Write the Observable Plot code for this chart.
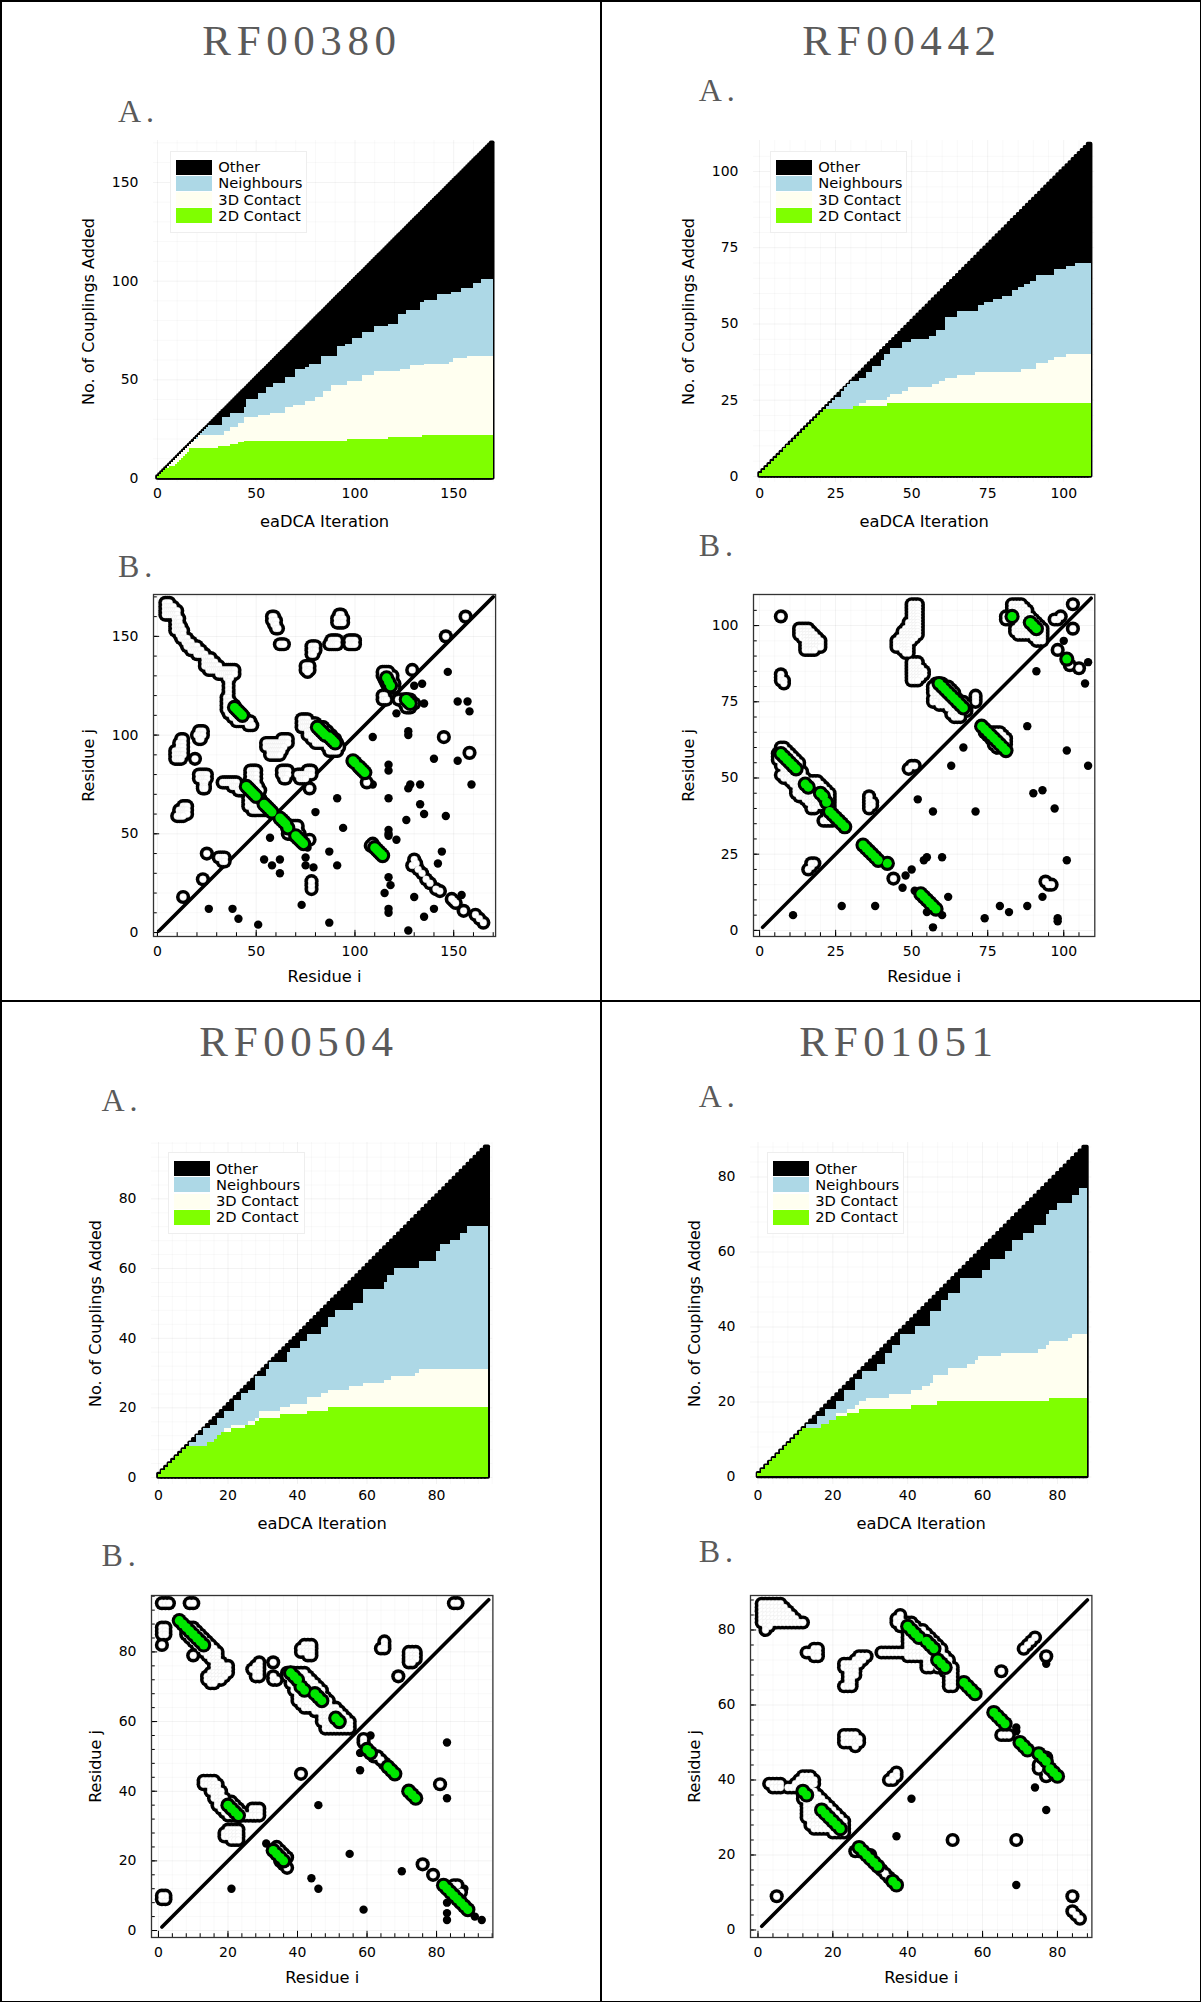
<!DOCTYPE html>
<html><head><meta charset="utf-8">
<script src="https://cdn.jsdelivr.net/npm/d3@7"></script>
<script src="https://cdn.jsdelivr.net/npm/@observablehq/plot@0.6"></script>
<style>
html,body{margin:0;padding:0;background:#fff}
#page{position:relative;width:1201px;height:2002px;overflow:hidden;background:#fff}
#page svg{position:absolute;background:transparent;overflow:visible}
.line{position:absolute;background:#000}
.title,.tag{position:absolute;font-family:"Liberation Serif",serif;color:#5a5a5a;white-space:nowrap;line-height:1}
.title{font-size:43px;letter-spacing:5.6px}
.tag{font-size:32px;letter-spacing:5px}
.legend{position:absolute;width:135px;height:80px;background:#fff;border:1px solid #eee;font:14.7px "DejaVu Sans",sans-serif;color:#000}
.legend i{position:absolute;left:5px;width:36px;height:15px}
.legend span{position:absolute;left:47px;line-height:16px}
</style></head><body><div id="page"></div>
<script>
// Panel RF00380
const rf00380Size = 170;
const rf00380Pair = [[0,5],[6,5],[7,6],[10,7],[11,8],[12,9],[13,10],[14,11],[15,12],[16,13],[17,15],[32,16],[38,17],[42,18],[45,19],[97,20],[118,21],[135,22]];
const rf00380Contact3D = [[0,17],[18,18],[20,20],[22,22],[35,24],[38,26],[42,28],[45,31],[52,32],[58,33],[66,36],[70,37],[76,39],[81,41],[85,44],[89,47],[97,49],[105,52],[111,54],[124,55],[129,57],[136,58],[149,59],[151,61],[158,62]];
const rf00380Neighbour = [[0,24],[25,27],[34,31],[38,33],[45,36],[46,40],[52,43],[56,46],[60,48],[66,51],[71,55],[76,56],[78,58],[84,62],[92,67],[96,68],[100,71],[105,74],[111,77],[118,78],[123,83],[127,85],[134,89],[136,90],[143,93],[150,94],[155,96],[161,99],[165,101]];
const rf00380Other = [[26,12],[38,12],[41,7],[51,4],[73,14],[87,5],[127,1],[135,8],[140,12],[117,12],[117,10],[154,19],[130,18],[115,20],[118,24],[117,28],[142,35],[144,41],[54,37],[62,37],[58,34],[62,30],[75,38],[75,34],[79,33],[91,34],[87,41],[57,48],[76,43],[94,53],[80,61],[91,68],[109,99],[121,47],[117,52],[117,50],[117,49],[126,57],[135,60],[146,59],[133,65],[117,68],[127,73],[128,75],[133,75],[159,75],[109,75],[117,85],[117,82],[140,88],[152,87],[127,102],[127,100],[121,111],[158,112],[157,117],[152,117],[135,116],[127,113],[130,125],[134,126],[147,132]];
// rows of the contact map: [j, first i, last i]
const rf00380ContactRows = [[167,4,6],[165,4,8],[163,4,10],[161,4,10],[159,9,11],[157,9,11],[155,9,12],[153,9,13],[151,11,13],[149,12,15],[147,14,17],[145,15,20],[143,17,22],[141,20,24],[139,24,27],[137,24,29],[135,24,31],[133,26,39],[131,31,39],[129,35,37],[127,36,36],[125,36,36],[123,36,36],[121,36,36],[119,35,36],[117,35,37],[115,35,39],[113,35,40],[111,36,42],[109,38,44],[107,40,47],[105,46,48],
[160,58,59],[158,58,60],[156,59,60],[154,60,61],[146,62,64],[161,92,93],[159,91,94],[157,91,94],[148,88,91],[146,87,91],[148,97,100],[146,97,100],[145,78,80],[143,78,80],[141,78,79],[135,75,77],[133,75,77],[132,76,76],[132,114,117],[130,114,119],[128,115,119],[126,116,120],[124,117,120],[120,114,115],[118,114,116],[118,122,128],[116,125,130],[114,126,128],
[102,21,23],[100,20,23],[98,21,22],[98,12,13],[96,11,13],[94,11,13],[92,9,13],[90,9,13],[88,9,12],[80,21,25],[78,21,25],[76,23,24],[74,23,24],[73,23,24],[76,33,40],[74,38,43],[72,41,44],[82,47,50],[80,47,50],[78,47,50],[76,46,50],[74,46,51],[72,47,52],[68,46,52],[66,46,53],[64,46,54],[62,48,56],[54,68,71],[52,66,71],[50,66,72],[108,73,76],[106,73,80],[104,73,84],[102,76,86],[100,76,88],[98,78,90],[96,80,91],[94,86,92],[92,87,91],[98,63,66],[96,55,66],[94,55,64],[92,57,63],[90,57,62],[82,63,66],[80,63,66],[78,64,65],[82,76,78],[80,71,78],[78,72,75],[64,13,15],[62,11,15],[60,11,15],[59,10,13],[38,31,34],[36,33,34]];
const rf00380ContactPoints = [[19,88],[25,40],[23,27],[13,18],[156,160],[146,150],[129,133],[145,99],[158,91],[106,76],[77,73],[77,47],[78,22],[78,24],[78,26],[130,37],[129,34],[131,35],[132,32],[134,30],[136,27],[138,25],[141,22],[143,21],[150,16],[149,17],[151,15],[155,11],[161,9],[163,7],[165,5],[108,44],[109,45]];
const rf00380Paired = [[39,114],[40,113],[41,112],[42,111],[43,110],[45,74],[46,73],[47,72],[48,71],[49,70],[50,69],[54,65],[55,64],[56,63],[57,62],[58,61],[62,58],[63,57],[64,56],[65,55],[66,53],[70,49],[71,48],[72,47],[73,46],[74,45],[81,104],[82,103],[83,102],[84,101],[85,100],[87,99],[88,98],[89,97],[90,96],[99,87],[100,86],[102,84],[103,83],[104,82],[105,81],[110,43],[111,42],[112,41],[113,40],[114,39],[116,129],[117,127],[118,125],[126,118],[127,117],[128,116]];
const rf00380MajorTicks = [0,50,100,150];
const rf00380MinorTicks = [0,10,20,30,40,50,60,70,80,90,100,110,120,130,140,150,160,170];

// Panel RF00442
const rf00442Size = 109;
const rf00442Pair = [[0,21],[22,22],[32,23],[43,24]];
const rf00442Contact3D = [[0,22],[32,23],[34,24],[36,25],[43,26],[44,27],[48,28],[50,29],[58,30],[60,31],[62,32],[66,33],[72,34],[87,35],[92,37],[96,38],[98,39],[102,40]];
const rf00442Neighbour = [[0,22],[23,24],[25,26],[28,29],[30,31],[34,32],[36,34],[38,36],[41,38],[42,40],[44,42],[48,44],[51,45],[57,46],[59,48],[62,52],[66,54],[73,56],[75,57],[78,58],[81,59],[84,61],[86,62],[88,63],[90,64],[92,66],[98,68],[102,69],[105,70]];
const rf00442Other = [[11,5],[27,8],[38,8],[47,14],[48,18],[50,20],[54,23],[55,24],[60,24],[62,11],[60,5],[55,6],[57,1],[51,13],[74,4],[79,8],[82,6],[88,8],[93,11],[98,4],[98,3],[101,23],[57,39],[71,39],[52,43],[63,54],[67,60],[90,45],[93,46],[97,40],[101,59],[108,54],[88,67],[91,85],[100,95],[107,81],[108,88],[80,64],[78,59]];
const rf00442ContactRows = [[99,13,16],[98,13,17],[97,13,18],[96,14,19],[95,15,20],[94,15,20],[93,15,20],[92,15,18],[107,50,52],[106,50,52],[105,50,52],[104,50,52],[103,50,52],[102,50,52],[101,49,52],[100,49,52],[99,48,52],[98,47,52],[97,47,52],[96,46,51],[95,45,50],[94,45,49],[93,45,49],[92,47,49],[91,48,49],[88,50,52],[87,50,52],[86,50,53],[85,50,54],[84,50,54],[83,50,53],[82,50,52],
[107,83,86],[106,83,87],[105,83,88],[104,84,88],[103,81,89],[102,81,90],[101,86,91],[100,85,92],[99,84,93],[98,84,93],[97,85,93],[96,90,93],[95,91,93],[81,58,60],[80,57,62],[79,57,63],[78,57,64],[77,58,64],[76,57,65],[75,57,58],[75,60,67],[74,59,68],[73,62,68],[72,64,68],[71,63,66],[70,64,66],[77,71,71],[76,71,71],[75,71,71],
[60,7,8],[59,7,9],[58,6,10],[57,6,11],[56,6,12],[55,7,13],[54,7,13],[53,8,13],[52,8,14],[51,7,14],[50,8,15],[49,10,19],[48,11,20],[47,12,21],[46,12,22],[45,12,23],[44,13,23],[43,15,23],[42,16,23],[41,17,23],[40,17,18],[40,22,23],[39,22,23],[38,23,23],[37,22,24],[36,21,24],[44,36,36],[43,36,36],[42,36,37],[41,36,37],[40,36,36],[65,74,79],[64,75,80],[63,76,81],[62,77,81],[61,77,81],[60,78,80]];
const rf00442ContactPoints = [[7,103],[7,84],[7,83],[7,82],[8,82],[8,81],[44,17],[103,107],[103,99],[98,92],[105,86],[102,87],[98,102],[99,103],[97,102],[49,53],[50,54],[51,54],[16,20],[17,21],[18,22],[17,22],[94,16],[96,15],[95,15]];
const rf00442Paired = [[59,81],[60,80],[61,79],[62,78],[63,77],[64,76],[65,75],[66,74],[67,73],[7,58],[8,57],[9,56],[10,55],[11,54],[12,53],[15,48],[16,47],[20,45],[21,44],[22,42],[23,39],[24,38],[25,37],[26,36],[27,35],[28,34],[34,28],[35,27],[36,26],[37,25],[38,24],[39,23],[42,22],[53,12],[54,11],[55,10],[56,9],[57,8],[58,7],[73,67],[74,66],[75,65],[76,64],[77,63],[78,62],[79,61],[80,60],[81,59],[83,103],[89,101],[90,100],[91,99],[101,89]];
const rf00442MajorTicks = [0,25,50,75,100];
const rf00442MinorTicks = [0,5,10,15,20,25,30,35,40,45,50,55,60,65,70,75,80,85,90,95,100,105];

// Panel RF00504
const rf00504Size = 95;
const rf00504Pair = [[0,9],[15,10],[17,11],[18,12],[19,13],[22,14],[26,15],[29,16],[30,17],[36,18],[44,19],[50,20]];
const rf00504Contact3D = [[0,9],[15,10],[17,11],[18,12],[19,13],[20,14],[22,15],[27,16],[29,17],[30,19],[36,20],[39,21],[44,23],[48,24],[50,25],[56,26],[60,27],[66,28],[68,29],[75,30],[76,31]];
const rf00504Neighbour = [[0,10],[12,12],[14,14],[16,15],[18,17],[20,19],[23,22],[25,24],[27,25],[29,29],[32,31],[33,33],[38,36],[39,37],[42,39],[44,41],[48,43],[50,46],[52,48],[57,50],[60,54],[66,56],[67,58],[69,60],[76,62],[81,65],[82,67],[85,68],[88,70],[90,72]];
const rf00504Other = [[21,12],[31,25],[44,15],[46,12],[55,22],[46,36],[59,6],[70,17],[58,46],[58,51],[61,56],[83,54],[83,38],[83,8],[83,5],[83,3],[88,12],[91,4],[93,3]];
const rf00504ContactRows = [[94,1,3],[94,9,10],[94,85,86],[87,1,2],[86,1,2],[85,1,2],[87,9,10],[86,8,11],[85,8,12],[84,9,13],[83,10,14],[82,11,15],[81,12,16],[80,13,17],[79,14,17],[78,15,17],[77,16,18],[76,16,20],[75,16,20],[74,15,20],[73,14,19],[72,14,18],[71,15,16],[77,29,29],[76,28,29],[75,27,29],[74,28,29],[73,28,29],
[74,37,42],[73,37,43],[72,38,44],[71,38,45],[70,39,46],[69,39,47],[68,40,47],[67,40,48],[66,40,49],[65,41,49],[64,42,51],[63,45,52],[62,47,53],[61,47,54],[60,47,55],[59,48,55],[58,48,55],
[43,13,16],[42,13,17],[41,15,17],[40,15,18],[39,16,18],[38,16,19],[37,17,21],[36,17,22],[35,18,23],[35,27,29],[34,19,24],[34,27,29],[33,20,29],[29,20,23],[28,19,23],[27,19,23],[26,21,23],[82,42,44],[81,41,44],[80,41,44],[79,43,44],[83,65,65],[82,65,65],[81,64,65],[80,72,74],[79,72,74],[78,72,74],[77,72,73]];
const rf00504ContactPoints = [[1,82],[10,79],[33,77],[33,72],[34,72],[33,73],[41,45],[81,42],[59,55],[59,54],[76,19],[79,16],[37,18],[36,19],[35,20],[62,50],[63,50],[64,49],[65,48],[1,9],[2,9],[2,10],[1,10],[85,13],[86,13],[87,11],[34,24],[35,23],[36,22],[37,21],[69,73]];
const rf00504Paired = [[6,89],[7,88],[8,87],[9,86],[10,85],[11,84],[12,83],[13,82],[38,74],[39,73],[40,72],[41,70],[42,69],[45,68],[46,67],[47,66],[51,61],[52,60],[20,36],[21,35],[22,34],[23,33],[33,23],[34,22],[35,21],[36,20],[60,52],[61,51],[66,47],[67,46],[68,45],[72,40],[73,39],[74,38],[82,13],[83,12],[84,11],[85,10],[86,9],[87,8],[88,7],[89,6]];
const rf00504MajorTicks = [0,20,40,60,80];
const rf00504MinorTicks = [0,4,8,12,16,20,24,28,32,36,40,44,48,52,56,60,64,68,72,76,80,84,88,92,96];

// Panel RF01051
const rf01051Size = 88;
const rf01051Pair = [[0,13],[18,14],[20,15],[22,16],[25,17],[28,18],[42,19],[49,20],[79,21]];
const rf01051Contact3D = [[0,13],[18,14],[20,15],[22,17],[25,18],[27,19],[28,20],[30,21],[36,22],[42,23],[45,24],[47,25],[48,27],[52,29],[57,30],[59,31],[60,32],[66,33],[76,34],[78,35],[79,36],[84,37],[85,38]];
const rf01051Neighbour = [[0,14],[17,16],[19,18],[22,20],[24,23],[27,26],[29,28],[33,30],[35,33],[37,35],[39,38],[43,40],[47,44],[50,47],[52,49],[55,53],[61,55],[63,58],[67,60],[69,63],[72,65],[75,67],[78,70],[79,71],[81,73],[85,75],[87,77]];
const rf01051Other = [[41,35],[37,25],[69,54],[74,38],[77,32],[77,71],[69,12],[69,53]];
const rf01051ContactRows = [[87,1,6],[86,1,7],[85,1,8],[84,1,9],[83,1,10],[82,1,12],[81,2,3],[80,2,2],[75,15,16],[74,13,16],[73,15,16],[73,27,29],[72,26,28],[71,23,27],[70,23,26],[69,24,26],[68,24,26],[67,24,25],[66,24,25],[65,23,25],
[84,38,38],[83,37,38],[82,37,41],[81,38,42],[80,40,44],[79,40,45],[78,40,46],[77,40,47],[76,40,48],[75,40,49],[74,33,49],[73,40,50],[72,45,51],[71,45,51],[70,45,46],[70,48,52],[69,50,52],[68,51,52],[67,51,52],[66,51,52],[65,51,52],
[41,12,14],[40,11,15],[39,3,6],[39,10,15],[38,4,6],[38,8,14],[37,12,15],[36,12,16],[35,12,17],[34,13,18],[33,13,19],[32,13,20],[31,13,21],[30,13,22],[29,14,23],[28,14,23],[27,15,23],[26,20,23],[52,23,26],[51,23,27],[50,23,27],[49,26,26],[42,37,37],[41,36,37],[40,35,36],[52,65,67],[46,77,77],[45,77,77],[44,75,77],[43,75,75],[42,77,77],[41,77,77],[21,26,27],[20,29,30]];
const rf01051ContactPoints = [[5,9],[52,24],[69,24],[84,9],[84,5],[85,4],[86,3],[65,69],[77,73],[74,78],[73,77],[72,76],[71,75],[33,16],[34,15],[35,14]];
const rf01051Paired = [[40,81],[41,80],[42,79],[43,78],[45,77],[46,76],[47,75],[48,72],[49,71],[50,70],[55,66],[56,65],[57,64],[58,63],[12,37],[13,36],[17,32],[18,31],[19,30],[20,29],[21,28],[22,27],[27,22],[28,21],[29,20],[30,19],[31,18],[32,17],[36,13],[37,12],[63,58],[64,57],[65,56],[66,55],[70,50],[71,49],[72,48],[75,47],[76,46],[77,45],[78,43],[79,42],[80,41]];
const rf01051MajorTicks = [0,20,40,60,80];
const rf01051MinorTicks = [0,4,8,12,16,20,24,28,32,36,40,44,48,52,56,60,64,68,72,76,80,84,88];

const legendEntries = ["Other","Neighbours","3D Contact","2D Contact"];
const legendColors = ["#000000","#add8e6","#fffff0","#7fff00"];

const panels = [
 {name:"RF00380",size:rf00380Size,pair:rf00380Pair,c3d:rf00380Contact3D,neigh:rf00380Neighbour,other:rf00380Other,rows:rf00380ContactRows,pts:rf00380ContactPoints,paired:rf00380Paired,major:rf00380MajorTicks,minor:rf00380MinorTicks,
  L:153.1,R:495.2,tA:140,tB:594.3,titleX:302,titleY:56,tagX:118,tagA:123,tagB:577.7,yTitle:64.3},
 {name:"RF00442",size:rf00442Size,pair:rf00442Pair,c3d:rf00442Contact3D,neigh:rf00442Neighbour,other:rf00442Other,rows:rf00442ContactRows,pts:rf00442ContactPoints,paired:rf00442Paired,major:rf00442MajorTicks,minor:rf00442MinorTicks,
  L:753.1,R:1094.4,tA:140,tB:594.3,titleX:902,titleY:56,tagX:698.7,tagA:101.7,tagB:556.7,yTitle:64.3},
 {name:"RF00504",size:rf00504Size,pair:rf00504Pair,c3d:rf00504Contact3D,neigh:rf00504Neighbour,other:rf00504Other,rows:rf00504ContactRows,pts:rf00504ContactPoints,paired:rf00504Paired,major:rf00504MajorTicks,minor:rf00504MinorTicks,
  L:150.8,R:492.2,tA:1141.5,tB:1595.3,titleX:299,titleY:1057.3,tagX:101.4,tagA:1111.7,tagB:1566.7,yTitle:56},
 {name:"RF01051",size:rf01051Size,pair:rf01051Pair,c3d:rf01051Contact3D,neigh:rf01051Neighbour,other:rf01051Other,rows:rf01051ContactRows,pts:rf01051ContactPoints,paired:rf01051Paired,major:rf01051MajorTicks,minor:rf01051MinorTicks,
  L:750,R:1091.4,tA:1141.5,tB:1595.3,titleX:899,titleY:1057.3,tagX:698.7,tagA:1107.7,tagB:1562.7,yTitle:56}
];

const page = document.getElementById("page");
const ML = 90, MR = 8, MT = 6, MB = 56, SIDE = 342;

function stepAt(list, k){ let v = 0; for (const [s, val] of list) if (s <= k) v = val; return Math.min(v, k); }
function place(svg, left, top){ svg.style.left = (left - ML) + "px"; svg.style.top = (top - MT) + "px"; page.appendChild(svg); }
function addText(cls, text, x, base, center){
  const d = document.createElement("div"); d.className = cls; d.textContent = text;
  d.style.left = x + "px"; page.appendChild(d);
  d.style.top = (base - d.offsetHeight * 0.86) + "px";
  if (center) d.style.transform = "translateX(-50%)";
}
function frameOpts(p, marks){
  return {width:(p.R-p.L)+ML+MR, height:SIDE+MT+MB, marginLeft:ML, marginRight:MR, marginTop:MT, marginBottom:MB,
    style:{background:"transparent",fontFamily:"'DejaVu Sans',sans-serif",color:"#000"},
    x:{domain:[-2,p.size+1.2]}, y:{domain:[-2,p.size+1.2]}, marks};
}
function gridMarks(p){
  return [Plot.gridX(p.minor,{stroke:"#000",strokeOpacity:0.03}),Plot.gridY(p.minor,{stroke:"#000",strokeOpacity:0.03}),
          Plot.gridX(p.major,{stroke:"#000",strokeOpacity:0.03}),Plot.gridY(p.major,{stroke:"#000",strokeOpacity:0.03})];
}
function axisMarks(p, xTitle, yTitle, pad, dy){
  return [Plot.axisX(p.major,{anchor:"bottom",tickSize:0,tickPadding:pad,fontSize:14,label:null,tickFormat:d=>String(d)}),
    Plot.axisY(p.major,{anchor:"left",tickSize:0,tickPadding:15,fontSize:14,label:null,tickFormat:d=>String(d)}),
    Plot.text([xTitle],{text:d=>d,frameAnchor:"bottom",dy,lineAnchor:"middle",fontSize:16.3}),
    Plot.text([yTitle],{text:d=>d,frameAnchor:"left",dx:-p.yTitle,rotate:-90,textAnchor:"middle",lineAnchor:"middle",fontSize:16})];
}

for (const p of panels){
  addText("title", p.name, p.titleX, p.titleY, true);
  addText("tag", "A.", p.tagX, p.tagA, false);
  addText("tag", "B.", p.tagX, p.tagB, false);

  const rows = d3.range(1, p.size + 1).map(k => ({k, total:k, pair:stepAt(p.pair,k), c3d:stepAt(p.c3d,k), neigh:stepAt(p.neigh,k)}));
  const bar = (key, fill, extra={}) => Plot.rect(rows,{x1:d=>d.k-1,x2:d=>d.k,y1:()=>0,y2:d=>d[key],fill,shapeRendering:"crispEdges",...extra});
  const A = Plot.plot(frameOpts(p,[...gridMarks(p),
    bar("total","#000",{stroke:"#000",strokeWidth:3.6,strokeLinejoin:"round",shapeRendering:"auto"}),
    bar("neigh","#add8e6"),bar("c3d","#fffff0"),bar("pair","#7fff00"),
    ...axisMarks(p,"eaDCA Iteration","No. of Couplings Added",6,39)]));
  place(A, p.L, p.tA);

  const lg = document.createElement("div"); lg.className = "legend";
  lg.style.left = (p.L + 17.2) + "px"; lg.style.top = (p.tA + 10.5) + "px";
  legendEntries.forEach((t,n)=>{
    const i = document.createElement("i"); i.style.background = legendColors[n]; i.style.top = (8 + n*16.33) + "px";
    const s = document.createElement("span"); s.textContent = t; s.style.top = (7.5 + n*16.33) + "px";
    lg.append(i,s);
  });
  page.appendChild(lg);

  const contacts = [...p.rows.flatMap(([j,a,b]) => d3.range(a, b + 1).map(i => [i,j])), ...p.pts];
  const dot = (data,r,fill,extra={}) => Plot.dot(data,{x:d=>d[0],y:d=>d[1],r,fill,stroke:"none",...extra});
  const lo = -2, tickMinor = (p.size+3.2)*0.011, tickMajor = (p.size+3.2)*0.018;
  const B = Plot.plot(frameOpts(p,[...gridMarks(p),
    Plot.ruleX(p.minor,{y1:lo,y2:lo+tickMinor,stroke:"#000"}),Plot.ruleY(p.minor,{x1:lo,x2:lo+tickMinor,stroke:"#000"}),
    Plot.ruleX(p.major,{y1:lo,y2:lo+tickMajor,stroke:"#000"}),Plot.ruleY(p.major,{x1:lo,x2:lo+tickMajor,stroke:"#000"}),
    Plot.line([[1,1],[p.size,p.size]],{x:d=>d[0],y:d=>d[1],stroke:"#000",strokeWidth:3.6}),
    dot(p.other,4.2,"#000"),
    dot(contacts,7.1,"#000"),
    dot(contacts,3.4,"#fff",{stroke:"#e4e4e4",strokeWidth:0.4}),
    dot(p.paired,7.6,"#000"),
    dot(p.paired,4.5,"#00e600"),
    Plot.frame({stroke:"#333",strokeWidth:1.3}),
    ...axisMarks(p,"Residue i","Residue j",10,40)]));
  place(B, p.L, p.tB);
}

// panel rules
[[0,0,1201,1.5],[0,0,1.5,2002],[600,0,1.5,2002],[1199.5,0,1.5,2002],[0,1000,1201,2.2],[0,2000.5,1201,1.5]].forEach(([x,y,w,h])=>{
  const d = document.createElement("div"); d.className="line";
  d.style.cssText += `left:${x}px;top:${y}px;width:${w}px;height:${h}px`; page.appendChild(d);
});
</script></body></html>
